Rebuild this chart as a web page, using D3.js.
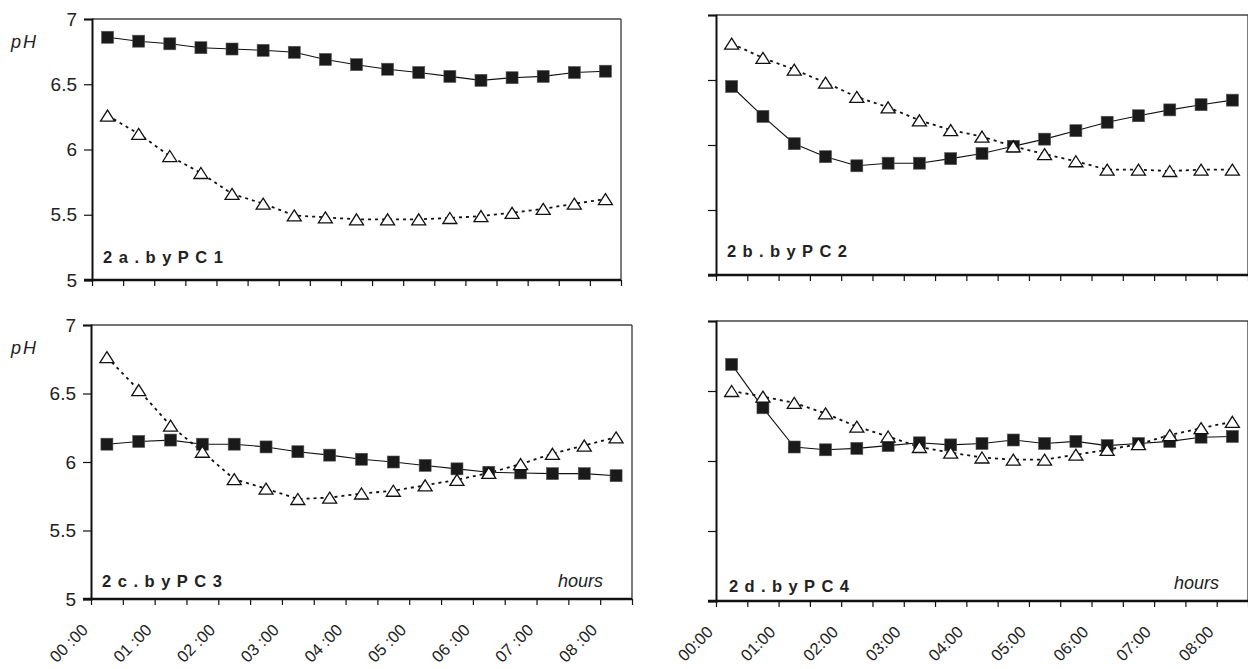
<!DOCTYPE html>
<html>
<head>
<meta charset="utf-8">
<script src="https://cdn.jsdelivr.net/npm/d3@7"></script>
<style>
  html, body { margin: 0; padding: 0; background: #fff; }
  svg { display: block; }
  text { font-family: "Liberation Sans", Arial, Helvetica, sans-serif; fill: #222; }
</style>
</head>
<body>
<svg id="chart" width="1248" height="669"></svg>
<script>
// ---- data ----
const times = ["00:15","00:45","01:15","01:45","02:15","02:45","03:15","03:45","04:15",
               "04:45","05:15","05:45","06:15","06:45","07:15","07:45","08:15"];
const hourTicksLeft  = ["00 :00","01 :00","02 :00","03 :00","04 :00","05 :00","06 :00","07 :00","08 :00"];
const hourTicksRight = ["00:00","01:00","02:00","03:00","04:00","05:00","06:00","07:00","08:00"];
const yTicks = [5, 5.5, 6, 6.5, 7];

const aSquares   = [6.86, 6.83, 6.81, 6.78, 6.77, 6.76, 6.745, 6.69, 6.65, 6.615, 6.59, 6.56, 6.53, 6.55, 6.56, 6.59, 6.60];
const aTriangles = [6.26, 6.12, 5.95, 5.82, 5.66, 5.585, 5.495, 5.48, 5.465, 5.465, 5.465, 5.475, 5.49, 5.515, 5.545, 5.585, 5.62];
const bSquares   = [6.45, 6.22, 6.01, 5.91, 5.84, 5.86, 5.86, 5.895, 5.935, 5.99, 6.045, 6.11, 6.175, 6.225, 6.27, 6.31, 6.345];
const bTriangles = [6.78, 6.67, 6.58, 6.48, 6.37, 6.29, 6.19, 6.115, 6.065, 5.99, 5.93, 5.875, 5.81, 5.81, 5.80, 5.81, 5.81];
const cSquares   = [6.13, 6.15, 6.16, 6.13, 6.13, 6.11, 6.075, 6.05, 6.02, 6.0, 5.975, 5.95, 5.925, 5.92, 5.915, 5.915, 5.90];
const cTriangles = [6.765, 6.525, 6.265, 6.075, 5.875, 5.805, 5.73, 5.74, 5.77, 5.79, 5.83, 5.87, 5.92, 5.985, 6.06, 6.12, 6.18];
const dSquares   = [6.69, 6.38, 6.10, 6.08, 6.09, 6.11, 6.13, 6.115, 6.125, 6.15, 6.125, 6.14, 6.11, 6.125, 6.14, 6.17, 6.175];
const dTriangles = [6.50, 6.46, 6.415, 6.34, 6.245, 6.175, 6.10, 6.06, 6.025, 6.01, 6.01, 6.045, 6.08, 6.12, 6.185, 6.235, 6.28];

const titles = ["2a.byPC1", "2b.byPC2", "2c.byPC3", "2d.byPC4"];

// ---- layout ----
const layout = [
  {sq: aSquares, tri: aTriangles, title: titles[0], x0: 92,  x1: 621,  yT: 19,  yB: 280, yLab: true,  xLab: null,           pH: true,  hours: false, tx: 103, ty: 263},
  {sq: bSquares, tri: bTriangles, title: titles[1], x0: 716, x1: 1248, yT: 15,  yB: 275, yLab: false, xLab: null,           pH: false, hours: false, tx: 727, ty: 257},
  {sq: cSquares, tri: cTriangles, title: titles[2], x0: 91,  x1: 632,  yT: 325, yB: 599, yLab: true,  xLab: hourTicksLeft,  pH: true,  hours: true,  tx: 102, ty: 587},
  {sq: dSquares, tri: dTriangles, title: titles[3], x0: 716, x1: 1248, yT: 321, yB: 601, yLab: false, xLab: hourTicksRight, pH: false, hours: true,  tx: 729, ty: 592}
];

const svg = d3.select("#chart");
svg.append("rect").attr("width", 1248).attr("height", 669).attr("fill", "#fff");

const toMin = s => { const [h, m] = s.split(":").map(Number); return h * 60 + m; };

layout.forEach(p => {
  const g = svg.append("g");
  const x = d3.scaleLinear().domain([0, 510]).range([p.x0, p.x1]);
  const y = d3.scaleLinear().domain([5, 7]).range([p.yB, p.yT]);

  // top & right frame
  g.append("line").attr("x1", p.x0).attr("x2", p.x1).attr("y1", p.yT).attr("y2", p.yT)
    .attr("stroke", "#444").attr("stroke-width", 1.4);
  g.append("line").attr("x1", p.x1).attr("x2", p.x1).attr("y1", p.yT).attr("y2", p.yB)
    .attr("stroke", "#444").attr("stroke-width", 1.4);

  // y axis
  const yAxis = d3.axisLeft(y).tickValues(yTicks).tickSize(8).tickPadding(7)
    .tickFormat(p.yLab ? d3.format("") : () => "");
  const ya = g.append("g").attr("transform", `translate(${p.x0},0)`).call(yAxis);
  ya.select(".domain").attr("stroke", "#111").attr("stroke-width", 2);
  ya.selectAll(".tick line").attr("stroke", "#111").attr("stroke-width", 1.2);
  ya.selectAll(".tick text").attr("font-size", 19).attr("fill", "#222")
    .style("font-family", '"Liberation Sans", Arial, sans-serif');

  // x axis
  const xTickVals = d3.range(0, 511, 30);
  const xAxis = d3.axisBottom(x).tickValues(xTickVals).tickSize(6).tickSizeOuter(0).tickFormat(() => "");
  const xa = g.append("g").attr("transform", `translate(0,${p.yB})`).call(xAxis);
  xa.select(".domain").attr("stroke", "#111").attr("stroke-width", 2.4)
    .attr("d", `M${p.x0 - 8},0H${p.x1}`);
  xa.selectAll(".tick line").attr("stroke", "#111").attr("stroke-width", 1.2);

  if (p.xLab) {
    g.selectAll(".hlab").data(p.xLab).enter().append("text")
      .attr("transform", (d, i) => `translate(${x(i * 60) - 2},${p.yB + 32}) rotate(-45)`)
      .attr("text-anchor", "end")
      .attr("font-size", 16.5)
      .text(d => d);
  }

  // lines
  const line = d3.line().x(d => x(d.t)).y(d => y(d.v));
  const sqData = times.map((t, i) => ({t: toMin(t), v: p.sq[i]}));
  const trData = times.map((t, i) => ({t: toMin(t), v: p.tri[i]}));

  g.append("path").datum(trData).attr("d", line).attr("fill", "none")
    .attr("stroke", "#111").attr("stroke-width", 1.8).attr("stroke-dasharray", "3,4");
  g.append("path").datum(sqData).attr("d", line).attr("fill", "none")
    .attr("stroke", "#111").attr("stroke-width", 1.1);

  // squares
  const s = 12;
  g.selectAll(".sq").data(sqData).enter().append("rect")
    .attr("x", d => x(d.t) - s / 2).attr("y", d => y(d.v) - s / 2)
    .attr("width", s).attr("height", s).attr("fill", "#1a1a1a")
    .attr("stroke", "#555").attr("stroke-width", 0.6);

  // triangles
  const tw = 14, th = 11;
  g.selectAll(".tr").data(trData).enter().append("path")
    .attr("d", d => {
      const cx = x(d.t), cy = y(d.v);
      return `M${cx},${cy - th / 2}L${cx + tw / 2},${cy + th / 2}L${cx - tw / 2},${cy + th / 2}Z`;
    })
    .attr("fill", "#fff").attr("stroke", "#111").attr("stroke-width", 1.3);

  // title
  g.append("text").attr("x", p.tx).attr("y", p.ty)
    .attr("font-size", 16.5).attr("font-weight", "bold")
    .attr("textLength", 120).attr("lengthAdjust", "spacing")
    .text(p.title);

  if (p.pH) {
    g.append("text").attr("x", 11).attr("y", p.yT + 29)
      .attr("font-size", 18).attr("font-style", "italic").attr("letter-spacing", 2)
      .text("pH");
  }
  if (p.hours) {
    g.append("text").attr("x", p.x1 - 29).attr("y", p.yB - 12)
      .attr("text-anchor", "end")
      .attr("font-size", 18).attr("font-style", "italic")
      .text("hours");
  }
});
</script>
</body>
</html>
